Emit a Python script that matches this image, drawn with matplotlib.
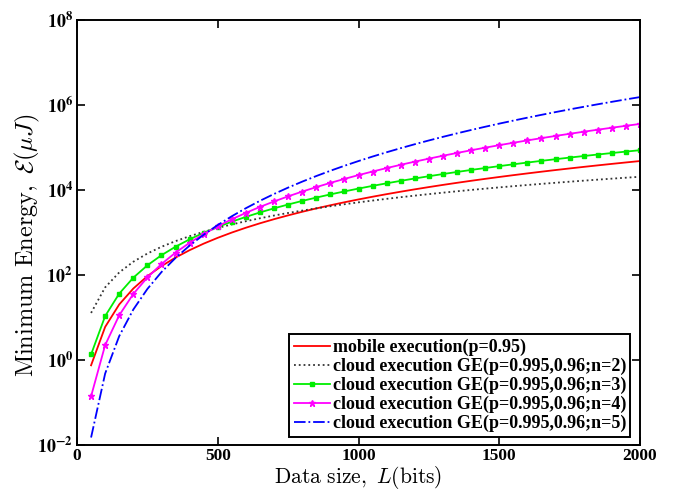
import matplotlib
matplotlib.use("Agg")
import matplotlib.pyplot as plt
from matplotlib.ticker import FixedLocator

# data (x step 50 bits)
data_size = list(range(50, 2001, 50))

mobile = [0.75, 6.0, 20.3, 48.0, 93.8, 162, 257, 384, 547, 750,
          998, 1296, 1648, 2058, 2531, 3072, 3685, 4374, 5144, 6000,
          6946, 7986, 9125, 10368, 11719, 13182, 14762, 16464, 18292, 20250,
          22343, 24576, 26953, 29478, 32156, 34992, 37990, 41154, 44489, 48000]

cloud_n2 = [12.8, 51.2, 115, 205, 320, 461, 627, 819, 1037, 1280,
            1549, 1843, 2163, 2509, 2880, 3277, 3699, 4147, 4621, 5120,
            5645, 6195, 6771, 7373, 8000, 8653, 9331, 10035, 10765, 11520,
            12301, 13107, 13939, 14797, 15680, 16589, 17523, 18483, 19469, 20480]

cloud_n3 = [1.35, 10.8, 36.5, 86.4, 169, 292, 463, 691, 984, 1350,
            1797, 2333, 2966, 3704, 4556, 5530, 6633, 7873, 9260, 10800,
            12502, 14375, 16425, 18662, 21094, 23728, 26572, 29635, 32925, 36450,
            40218, 44237, 48515, 53060, 57881, 62986, 68382, 74077, 80081, 86400]

cloud_n4 = [0.14, 2.24, 11.3, 35.8, 87.5, 181, 336, 573, 919, 1400,
            2050, 2903, 3999, 5378, 7088, 9175, 11693, 14697, 18245, 22400,
            27227, 32796, 39178, 46449, 54688, 63977, 74402, 86052, 99019, 113400,
            129293, 146801, 166029, 187087, 210088, 235146, 262383, 291919, 323882, 358400]

cloud_n5 = [0.015, 0.48, 3.65, 15.4, 46.9, 117, 252, 492, 886, 1500,
            2416, 3732, 5569, 8067, 11391, 15729, 21298, 28344, 37141, 48000,
            61262, 77304, 96545, 119439, 146484, 178221, 215234, 258156, 307667, 364500,
            429437, 503316, 587031, 681531, 787828, 906993, 1040159, 1188528, 1353363, 1536000]

labels = ["mobile execution(p=0.95)",
          "cloud execution GE(p=0.995,0.96;n=2)",
          "cloud execution GE(p=0.995,0.96;n=3)",
          "cloud execution GE(p=0.995,0.96;n=4)",
          "cloud execution GE(p=0.995,0.96;n=5)"]

y_ticks = [1e-2, 1e0, 1e2, 1e4, 1e6, 1e8]
y_tick_labels = [r"$\mathbf{10^{-2}}$", r"$\mathbf{10^{0}}$", r"$\mathbf{10^{2}}$",
                 r"$\mathbf{10^{4}}$", r"$\mathbf{10^{6}}$", r"$\mathbf{10^{8}}$"]
x_ticks = [0, 500, 1000, 1500, 2000]

# formatting
axis_width = 1.4
line_width = 1.3
serif = "Liberation Serif"

fig = plt.figure(figsize=(6.76, 4.91), dpi=100)
ax = fig.add_axes([77 / 676, 46 / 491, 563 / 676, 425 / 491])

ax.plot(data_size, mobile, '-', color='#ff0000', linewidth=line_width, label=labels[0])
ax.plot(data_size, cloud_n2, ':', color='#333333', linewidth=line_width, label=labels[1])
ax.plot(data_size, cloud_n3, '-', color='#00ee00', linewidth=line_width,
        marker='s', markersize=3.5, label=labels[2])
ax.plot(data_size, cloud_n4, '-', color='#ff00ff', linewidth=line_width,
        marker='*', markersize=4.5, label=labels[3])
ax.plot(data_size, cloud_n5, '-.', color='#0000ff', linewidth=line_width, label=labels[4])

ax.set_yscale('log')
ax.set_xlim(0, 2000)
ax.set_ylim(1e-2, 1e8)
ax.yaxis.set_major_locator(FixedLocator(y_ticks))
ax.yaxis.set_minor_locator(FixedLocator([]))
ax.set_yticklabels(y_tick_labels)
ax.set_xticks(x_ticks)
ax.set_xticklabels([str(t) for t in x_ticks])

for s in ax.spines.values():
    s.set_linewidth(axis_width)
ax.tick_params(axis='both', direction='in', width=1.2, length=6,
               top=True, right=True, pad=3)
ax.tick_params(axis='x', pad=2)
for lab in ax.get_xticklabels():
    lab.set_fontfamily(serif)
    lab.set_fontweight('bold')
    lab.set_fontsize(12.5)
for lab in ax.get_yticklabels():
    lab.set_fontsize(13)
    lab.set_math_fontfamily('stix')

ax.set_xlabel(r"$\mathrm{Data\ size,}\ L\mathrm{(bits)}$", fontsize=15.5,
              math_fontfamily='cm')
ax.set_ylabel(r"$\mathrm{Minimum\ Energy,}\ \mathcal{E}(\mu J)$", fontsize=17.5,
              math_fontfamily='cm')
ax.xaxis.set_label_coords(0.5, -0.044)
ax.yaxis.set_label_coords(-0.062, 0.47)

leg = ax.legend(loc='lower right', bbox_to_anchor=(0.983, 0.019), borderaxespad=0,
                prop={'family': serif, 'weight': 'bold', 'size': 13},
                handlelength=2.0, handletextpad=0.15, labelspacing=0.1,
                borderpad=0.25, fancybox=False, framealpha=1, edgecolor='black')
leg.get_frame().set_linewidth(1.4)

plt.savefig('out.png', dpi=100)
